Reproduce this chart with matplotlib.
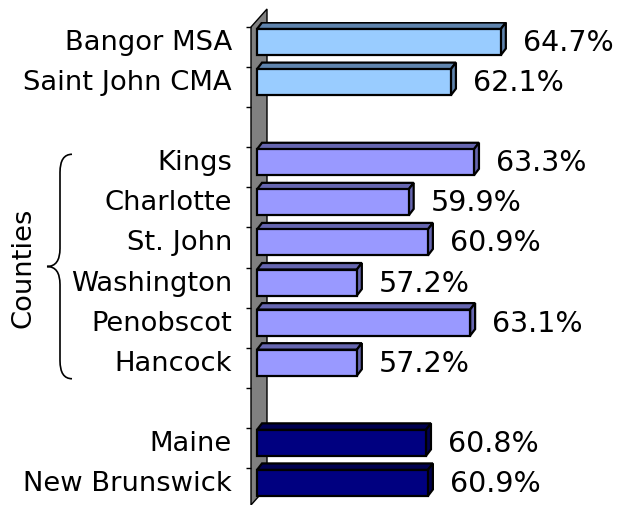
import matplotlib
matplotlib.use("Agg")
import matplotlib.pyplot as plt
import matplotlib.transforms as mtrans
from matplotlib.patches import Polygon, PathPatch
from matplotlib.path import Path
import numpy as np

### data (top to bottom, None = empty slot)
categories = ["Bangor MSA", "Saint John CMA", None,
              "Kings", "Charlotte", "St. John", "Washington", "Penobscot", "Hancock", None,
              "Maine", "New Brunswick"]
values = [64.7, 62.1, None, 63.3, 59.9, 60.9, 57.2, 63.1, 57.2, None, 60.8, 60.9]
groups = ["msa", "msa", None, "county", "county", "county", "county", "county", "county", None,
          "state", "state"]
group_label = "Counties"

front_col = {"msa": "#99CCFF", "county": "#9999FF", "state": "#000080"}
shade_col = {"msa": "#5F84AD", "county": "#6666B0", "state": "#000050"}

W, H = 624, 506
fig = plt.figure(figsize=(W / 100, H / 100), dpi=100, facecolor="white")

# axes placed in pixels: left edge = front of the wall
px_per_pct = 19.2
x0 = 52 - 6 / px_per_pct
x1 = 70
ax_left, ax_top, ax_bot = 251, 23, 504
ax = fig.add_axes([ax_left / W, (H - ax_bot) / H,
                   (x1 - x0) * px_per_pct / W, (ax_bot - ax_top) / H])
ax.set_zorder(2)
n = len(categories)
ax.set_xlim(x0, x1)
ax.set_ylim(n - 0.5, -0.5)
ax.set_facecolor("none")
for s in ax.spines.values():
    s.set_visible(False)
ax.set_xticks([])
ax.set_yticks(np.arange(n) - 0.375)
ax.set_yticklabels([])
ax.tick_params(axis="y", direction="out", length=3.8, width=1, color="black")

px_per_slot = (ax_bot - ax_top) / n
dx = 5 / px_per_pct      # depth in data units
dy = 6.5 / px_per_slot
bar_h = 0.65
start = 52.0

def pix(x, y):
    return (x / W, 1 - y / H)

# grey wall
wall = Polygon([pix(251, 28), pix(267, 10), pix(267, 488), pix(251, 506)],
               closed=True, transform=fig.transFigure, facecolor="#808080",
               edgecolor="black", linewidth=1, zorder=0)
fig.patches.append(wall)

for i, (name, v, g) in enumerate(zip(categories, values, groups)):
    if name is None:
        continue
    top = i - bar_h / 2
    bot = i + bar_h / 2
    kw = dict(edgecolor="black", linewidth=1.6, joinstyle="miter", zorder=3)
    # top face
    ax.add_patch(Polygon([(start, top), (v, top), (v + dx, top - dy), (start + dx, top - dy)],
                         closed=True, facecolor=shade_col[g], **kw))
    # side face
    ax.add_patch(Polygon([(v, top), (v + dx, top - dy), (v + dx, bot - dy), (v, bot)],
                         closed=True, facecolor=shade_col[g], **kw))
    # front face
    ax.add_patch(Polygon([(start, top), (v, top), (v, bot), (start, bot)],
                         closed=True, facecolor=front_col[g], **kw))
    ax.annotate(f"{v}%", (v, i), xytext=(16, 0), textcoords="offset points",
                ha="left", va="center", fontsize=20.5, color="black")

lab_tr = mtrans.blended_transform_factory(fig.transFigure, ax.transData)
for i, name in enumerate(categories):
    if name is None:
        continue
    ax.text(232 / W, i, name, transform=lab_tr, ha="right", va="center",
            fontsize=19.7, color="black", clip_on=False)

# brace around the county rows
county_idx = [i for i, g in enumerate(groups) if g == "county"]
y_a = county_idx[0] - 0.2
y_b = county_idx[-1] + 0.4
ym = (y_a + y_b) / 2
xl, xc, xr = 47 / W, 60 / W, 72 / W
r = 0.45
verts = [(xr, y_a), (xc, y_a), (xc, y_a + r), (xc, ym - r), (xc, ym), (xl, ym),
         (xc, ym), (xc, ym + r), (xc, y_b - r), (xc, y_b), (xr, y_b)]
codes = [Path.MOVETO, Path.CURVE3, Path.CURVE3, Path.LINETO, Path.CURVE3, Path.CURVE3,
         Path.CURVE3, Path.CURVE3, Path.LINETO, Path.CURVE3, Path.CURVE3]
ax.add_patch(PathPatch(Path(verts, codes), transform=lab_tr, facecolor="none",
                       edgecolor="black", linewidth=1.2, clip_on=False))
ax.text(24 / W, ym, group_label, transform=lab_tr, rotation=90, ha="center",
        va="center", fontsize=19.7, color="black", clip_on=False)

fig.savefig("out.png", dpi=100, facecolor="white")
